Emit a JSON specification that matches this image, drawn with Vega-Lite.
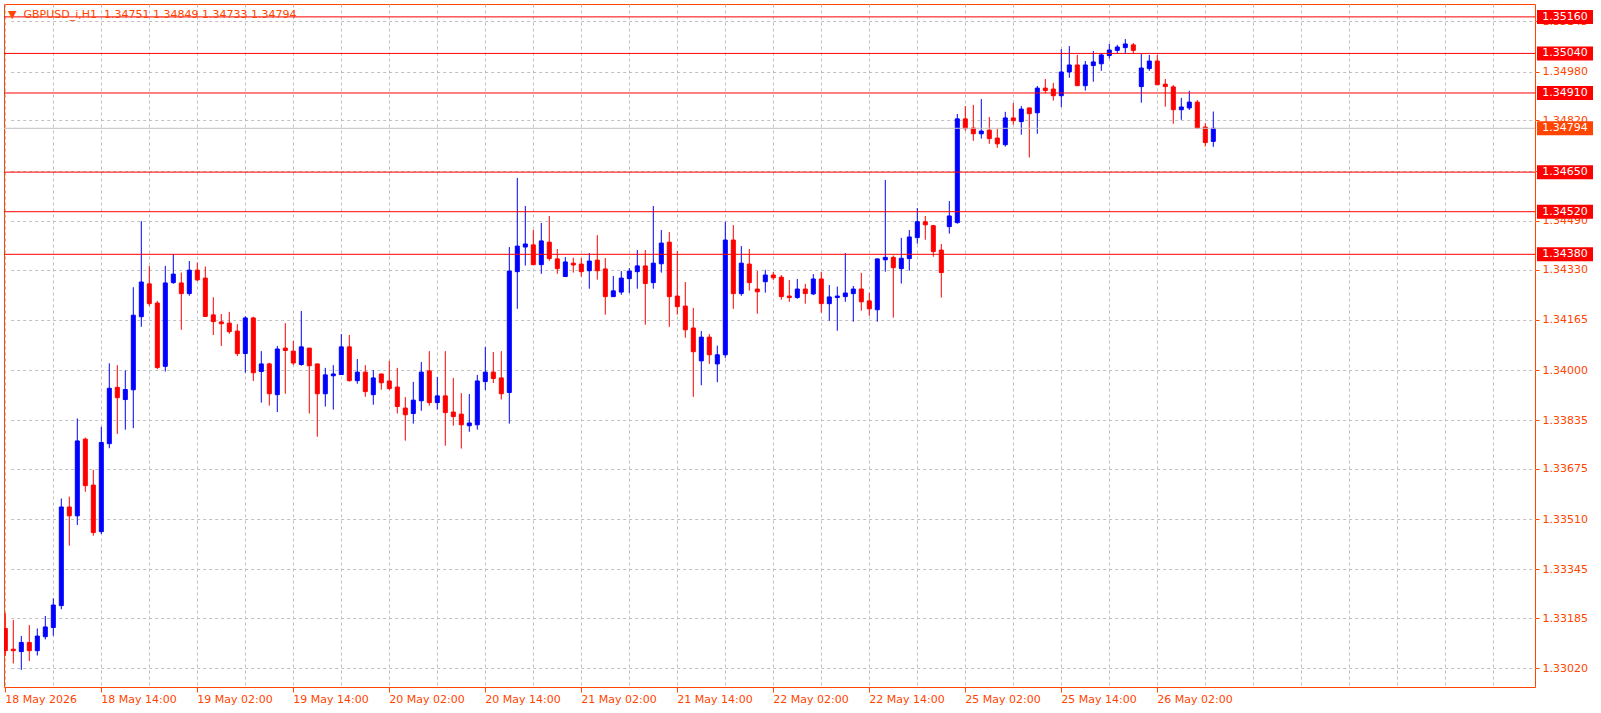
{
  "$schema": "https://vega.github.io/schema/vega-lite/v6.json",
  "usermeta": {"embedOptions": {"actions": false}},
  "autosize": "none",
  "width": 1531,
  "height": 683,
  "padding": {"left": 4, "top": 4, "right": 66, "bottom": 26},
  "background": "white",
  "view": {"stroke": "#ff4500", "strokeWidth": 1, "fill": "white"},
  "title": {"text": "▼\u00a0 GBPUSD_i,H1\u00a0 1.34751 1.34849 1.34733 1.34794", "anchor": "start", "frame": "group", "orient": "top", "offset": 0, "dy": 25, "dx": 4, "color": "#ff4500", "font": "DejaVu Sans", "fontSize": 11, "fontWeight": "normal", "baseline": "alphabetic"},
  "config": {"font": "DejaVu Sans"},
  "datasets": {
    "candles": [
      {"t":"2026-05-18 02:00","o":1.33151,"h":1.33201,"l":1.33061,"c":1.33078},
      {"t":"2026-05-18 03:00","o":1.33083,"h":1.33179,"l":1.33036,"c":1.33078},
      {"t":"2026-05-18 04:00","o":1.33075,"h":1.33126,"l":1.33015,"c":1.33105},
      {"t":"2026-05-18 05:00","o":1.33105,"h":1.33162,"l":1.33044,"c":1.33078},
      {"t":"2026-05-18 06:00","o":1.33078,"h":1.33151,"l":1.33062,"c":1.33126},
      {"t":"2026-05-18 07:00","o":1.33124,"h":1.33192,"l":1.33115,"c":1.33156},
      {"t":"2026-05-18 08:00","o":1.33154,"h":1.3325,"l":1.33127,"c":1.33228},
      {"t":"2026-05-18 09:00","o":1.33226,"h":1.33578,"l":1.33214,"c":1.3355},
      {"t":"2026-05-18 10:00","o":1.3355,"h":1.33584,"l":1.33423,"c":1.33521},
      {"t":"2026-05-18 11:00","o":1.33521,"h":1.33841,"l":1.33491,"c":1.33767},
      {"t":"2026-05-18 12:00","o":1.33773,"h":1.33778,"l":1.336,"c":1.3362},
      {"t":"2026-05-18 13:00","o":1.33622,"h":1.33672,"l":1.33456,"c":1.33466},
      {"t":"2026-05-18 14:00","o":1.33469,"h":1.33813,"l":1.33461,"c":1.33762},
      {"t":"2026-05-18 15:00","o":1.33758,"h":1.34022,"l":1.33743,"c":1.3394},
      {"t":"2026-05-18 16:00","o":1.33943,"h":1.34016,"l":1.3379,"c":1.33909},
      {"t":"2026-05-18 17:00","o":1.33903,"h":1.33999,"l":1.33804,"c":1.33936},
      {"t":"2026-05-18 18:00","o":1.33935,"h":1.34272,"l":1.33809,"c":1.3418},
      {"t":"2026-05-18 19:00","o":1.34175,"h":1.34489,"l":1.34142,"c":1.34289},
      {"t":"2026-05-18 20:00","o":1.34283,"h":1.34342,"l":1.3421,"c":1.34218},
      {"t":"2026-05-18 21:00","o":1.3422,"h":1.34227,"l":1.34003,"c":1.34008},
      {"t":"2026-05-18 22:00","o":1.34012,"h":1.34342,"l":1.33995,"c":1.34286},
      {"t":"2026-05-18 23:00","o":1.34287,"h":1.34381,"l":1.34283,"c":1.34315},
      {"t":"2026-05-19 00:00","o":1.34286,"h":1.3432,"l":1.34132,"c":1.34251},
      {"t":"2026-05-19 01:00","o":1.34251,"h":1.34358,"l":1.34244,"c":1.34328},
      {"t":"2026-05-19 02:00","o":1.34328,"h":1.34353,"l":1.34292,"c":1.34296},
      {"t":"2026-05-19 03:00","o":1.34302,"h":1.3434,"l":1.34174,"c":1.34176},
      {"t":"2026-05-19 04:00","o":1.34181,"h":1.34239,"l":1.34115,"c":1.34159},
      {"t":"2026-05-19 05:00","o":1.34158,"h":1.34184,"l":1.34079,"c":1.34152},
      {"t":"2026-05-19 06:00","o":1.34154,"h":1.34191,"l":1.34119,"c":1.34126},
      {"t":"2026-05-19 07:00","o":1.34128,"h":1.34151,"l":1.34046,"c":1.34054},
      {"t":"2026-05-19 08:00","o":1.34054,"h":1.34177,"l":1.33991,"c":1.34171},
      {"t":"2026-05-19 09:00","o":1.34171,"h":1.34175,"l":1.33964,"c":1.33991},
      {"t":"2026-05-19 10:00","o":1.33995,"h":1.34062,"l":1.33893,"c":1.3402},
      {"t":"2026-05-19 11:00","o":1.3402,"h":1.34024,"l":1.33883,"c":1.33922},
      {"t":"2026-05-19 12:00","o":1.33919,"h":1.34079,"l":1.33862,"c":1.34069},
      {"t":"2026-05-19 13:00","o":1.34072,"h":1.34154,"l":1.33922,"c":1.34064},
      {"t":"2026-05-19 14:00","o":1.34062,"h":1.34096,"l":1.34016,"c":1.34023},
      {"t":"2026-05-19 15:00","o":1.34018,"h":1.34194,"l":1.34014,"c":1.34076},
      {"t":"2026-05-19 16:00","o":1.34072,"h":1.34072,"l":1.33857,"c":1.34014},
      {"t":"2026-05-19 17:00","o":1.3402,"h":1.3402,"l":1.33781,"c":1.33922},
      {"t":"2026-05-19 18:00","o":1.33922,"h":1.34007,"l":1.3388,"c":1.33984},
      {"t":"2026-05-19 19:00","o":1.33981,"h":1.34016,"l":1.3387,"c":1.33987},
      {"t":"2026-05-19 20:00","o":1.33985,"h":1.34118,"l":1.33984,"c":1.34076},
      {"t":"2026-05-19 21:00","o":1.34076,"h":1.34115,"l":1.33962,"c":1.33965},
      {"t":"2026-05-19 22:00","o":1.33965,"h":1.34036,"l":1.33955,"c":1.33993},
      {"t":"2026-05-19 23:00","o":1.33993,"h":1.34016,"l":1.33912,"c":1.33929},
      {"t":"2026-05-20 00:00","o":1.33919,"h":1.34,"l":1.33886,"c":1.33974},
      {"t":"2026-05-20 01:00","o":1.33987,"h":1.33987,"l":1.33935,"c":1.33958},
      {"t":"2026-05-20 02:00","o":1.33964,"h":1.3403,"l":1.33934,"c":1.33939},
      {"t":"2026-05-20 03:00","o":1.33944,"h":1.34007,"l":1.33857,"c":1.3388},
      {"t":"2026-05-20 04:00","o":1.33875,"h":1.33911,"l":1.33768,"c":1.33853},
      {"t":"2026-05-20 05:00","o":1.33857,"h":1.33961,"l":1.33824,"c":1.33901},
      {"t":"2026-05-20 06:00","o":1.33899,"h":1.34026,"l":1.33866,"c":1.33993},
      {"t":"2026-05-20 07:00","o":1.33997,"h":1.34062,"l":1.33883,"c":1.33893},
      {"t":"2026-05-20 08:00","o":1.33893,"h":1.33977,"l":1.3387,"c":1.33915},
      {"t":"2026-05-20 09:00","o":1.33915,"h":1.34062,"l":1.33751,"c":1.3386},
      {"t":"2026-05-20 10:00","o":1.33862,"h":1.33974,"l":1.33817,"c":1.33847},
      {"t":"2026-05-20 11:00","o":1.33855,"h":1.33924,"l":1.33742,"c":1.3382},
      {"t":"2026-05-20 12:00","o":1.33817,"h":1.33921,"l":1.33797,"c":1.33826},
      {"t":"2026-05-20 13:00","o":1.3382,"h":1.33984,"l":1.33804,"c":1.33964},
      {"t":"2026-05-20 14:00","o":1.33962,"h":1.34076,"l":1.33934,"c":1.33993},
      {"t":"2026-05-20 15:00","o":1.33993,"h":1.34059,"l":1.33957,"c":1.33972},
      {"t":"2026-05-20 16:00","o":1.33974,"h":1.34062,"l":1.33903,"c":1.33922},
      {"t":"2026-05-20 17:00","o":1.33926,"h":1.34404,"l":1.33824,"c":1.34325},
      {"t":"2026-05-20 18:00","o":1.34323,"h":1.34631,"l":1.34201,"c":1.34407},
      {"t":"2026-05-20 19:00","o":1.34404,"h":1.34539,"l":1.34343,"c":1.34414},
      {"t":"2026-05-20 20:00","o":1.34411,"h":1.3446,"l":1.34344,"c":1.34346},
      {"t":"2026-05-20 21:00","o":1.34346,"h":1.34483,"l":1.34316,"c":1.34424},
      {"t":"2026-05-20 22:00","o":1.3442,"h":1.34506,"l":1.34359,"c":1.34366},
      {"t":"2026-05-20 23:00","o":1.34365,"h":1.34397,"l":1.34316,"c":1.34333},
      {"t":"2026-05-21 00:00","o":1.34307,"h":1.34371,"l":1.34307,"c":1.34355},
      {"t":"2026-05-21 01:00","o":1.34351,"h":1.34369,"l":1.3432,"c":1.34345},
      {"t":"2026-05-21 02:00","o":1.34348,"h":1.34368,"l":1.34307,"c":1.34323},
      {"t":"2026-05-21 03:00","o":1.34326,"h":1.34384,"l":1.34267,"c":1.34358},
      {"t":"2026-05-21 04:00","o":1.34361,"h":1.34443,"l":1.34297,"c":1.34326},
      {"t":"2026-05-21 05:00","o":1.34332,"h":1.34368,"l":1.34182,"c":1.34241},
      {"t":"2026-05-21 06:00","o":1.34241,"h":1.34309,"l":1.34241,"c":1.3426},
      {"t":"2026-05-21 07:00","o":1.34256,"h":1.34325,"l":1.34247,"c":1.34302},
      {"t":"2026-05-21 08:00","o":1.343,"h":1.34335,"l":1.34253,"c":1.34325},
      {"t":"2026-05-21 09:00","o":1.34323,"h":1.34394,"l":1.34267,"c":1.34342},
      {"t":"2026-05-21 10:00","o":1.34342,"h":1.34394,"l":1.34149,"c":1.34284},
      {"t":"2026-05-21 11:00","o":1.34287,"h":1.34539,"l":1.34267,"c":1.34351},
      {"t":"2026-05-21 12:00","o":1.34349,"h":1.3446,"l":1.3432,"c":1.34417},
      {"t":"2026-05-21 13:00","o":1.3442,"h":1.34453,"l":1.34142,"c":1.34241},
      {"t":"2026-05-21 14:00","o":1.34243,"h":1.34391,"l":1.34182,"c":1.34208},
      {"t":"2026-05-21 15:00","o":1.3421,"h":1.34289,"l":1.34106,"c":1.34132},
      {"t":"2026-05-21 16:00","o":1.34138,"h":1.34204,"l":1.33912,"c":1.3406},
      {"t":"2026-05-21 17:00","o":1.3403,"h":1.34128,"l":1.3395,"c":1.34108},
      {"t":"2026-05-21 18:00","o":1.34108,"h":1.34118,"l":1.3402,"c":1.3405},
      {"t":"2026-05-21 19:00","o":1.3402,"h":1.3408,"l":1.3396,"c":1.3405},
      {"t":"2026-05-21 20:00","o":1.3405,"h":1.34487,"l":1.3404,"c":1.34427},
      {"t":"2026-05-21 21:00","o":1.34427,"h":1.34476,"l":1.34201,"c":1.34251},
      {"t":"2026-05-21 22:00","o":1.34251,"h":1.34407,"l":1.34244,"c":1.34351},
      {"t":"2026-05-21 23:00","o":1.34348,"h":1.34397,"l":1.34261,"c":1.34287},
      {"t":"2026-05-22 00:00","o":1.34266,"h":1.34325,"l":1.34185,"c":1.34257},
      {"t":"2026-05-22 01:00","o":1.3429,"h":1.34329,"l":1.34254,"c":1.34312},
      {"t":"2026-05-22 02:00","o":1.34312,"h":1.34322,"l":1.34296,"c":1.34303},
      {"t":"2026-05-22 03:00","o":1.34305,"h":1.34312,"l":1.34231,"c":1.34241},
      {"t":"2026-05-22 04:00","o":1.34243,"h":1.34296,"l":1.34224,"c":1.34238},
      {"t":"2026-05-22 05:00","o":1.34238,"h":1.34299,"l":1.34234,"c":1.34266},
      {"t":"2026-05-22 06:00","o":1.34266,"h":1.34283,"l":1.34218,"c":1.34251},
      {"t":"2026-05-22 07:00","o":1.3425,"h":1.34315,"l":1.34246,"c":1.34299},
      {"t":"2026-05-22 08:00","o":1.34299,"h":1.34322,"l":1.34188,"c":1.34218},
      {"t":"2026-05-22 09:00","o":1.34218,"h":1.34279,"l":1.34162,"c":1.3424},
      {"t":"2026-05-22 10:00","o":1.34238,"h":1.34274,"l":1.34129,"c":1.34243},
      {"t":"2026-05-22 11:00","o":1.34241,"h":1.34384,"l":1.34224,"c":1.34253},
      {"t":"2026-05-22 12:00","o":1.34251,"h":1.34276,"l":1.34159,"c":1.34266},
      {"t":"2026-05-22 13:00","o":1.34266,"h":1.34319,"l":1.34195,"c":1.34224},
      {"t":"2026-05-22 14:00","o":1.34227,"h":1.34254,"l":1.34178,"c":1.34201},
      {"t":"2026-05-22 15:00","o":1.34198,"h":1.34365,"l":1.34159,"c":1.34365},
      {"t":"2026-05-22 16:00","o":1.34362,"h":1.34624,"l":1.34323,"c":1.3437},
      {"t":"2026-05-22 17:00","o":1.3437,"h":1.34376,"l":1.34172,"c":1.34336},
      {"t":"2026-05-22 18:00","o":1.34333,"h":1.34434,"l":1.34284,"c":1.34367},
      {"t":"2026-05-22 19:00","o":1.34366,"h":1.3446,"l":1.34326,"c":1.34437},
      {"t":"2026-05-22 20:00","o":1.34435,"h":1.34532,"l":1.34415,"c":1.34487},
      {"t":"2026-05-22 21:00","o":1.34487,"h":1.34506,"l":1.34428,"c":1.34477},
      {"t":"2026-05-22 22:00","o":1.34474,"h":1.34477,"l":1.34372,"c":1.34389},
      {"t":"2026-05-22 23:00","o":1.34394,"h":1.34414,"l":1.34238,"c":1.3432},
      {"t":"2026-05-25 00:00","o":1.34471,"h":1.34555,"l":1.34448,"c":1.34506},
      {"t":"2026-05-25 01:00","o":1.34484,"h":1.34841,"l":1.34481,"c":1.34825},
      {"t":"2026-05-25 02:00","o":1.34825,"h":1.34867,"l":1.34786,"c":1.34793},
      {"t":"2026-05-25 03:00","o":1.34795,"h":1.34871,"l":1.34753,"c":1.34776},
      {"t":"2026-05-25 04:00","o":1.34776,"h":1.3489,"l":1.3476,"c":1.34785},
      {"t":"2026-05-25 05:00","o":1.34788,"h":1.34831,"l":1.34743,"c":1.3476},
      {"t":"2026-05-25 06:00","o":1.34762,"h":1.34792,"l":1.3473,"c":1.34743},
      {"t":"2026-05-25 07:00","o":1.3474,"h":1.34848,"l":1.34734,"c":1.34828},
      {"t":"2026-05-25 08:00","o":1.34828,"h":1.34877,"l":1.34806,"c":1.34819},
      {"t":"2026-05-25 09:00","o":1.34816,"h":1.34867,"l":1.34773,"c":1.34857},
      {"t":"2026-05-25 10:00","o":1.34861,"h":1.34861,"l":1.34698,"c":1.34842},
      {"t":"2026-05-25 11:00","o":1.34845,"h":1.34933,"l":1.34776,"c":1.34926},
      {"t":"2026-05-25 12:00","o":1.34926,"h":1.34956,"l":1.34909,"c":1.34918},
      {"t":"2026-05-25 13:00","o":1.34923,"h":1.34943,"l":1.34885,"c":1.34901},
      {"t":"2026-05-25 14:00","o":1.34901,"h":1.35054,"l":1.34864,"c":1.34979},
      {"t":"2026-05-25 15:00","o":1.34979,"h":1.35064,"l":1.3496,"c":1.35002},
      {"t":"2026-05-25 16:00","o":1.35002,"h":1.35035,"l":1.34934,"c":1.34934},
      {"t":"2026-05-25 17:00","o":1.34934,"h":1.35015,"l":1.34918,"c":1.35002},
      {"t":"2026-05-25 18:00","o":1.35,"h":1.35048,"l":1.34947,"c":1.35012},
      {"t":"2026-05-25 19:00","o":1.35006,"h":1.35041,"l":1.34983,"c":1.35035},
      {"t":"2026-05-25 20:00","o":1.35033,"h":1.35071,"l":1.35023,"c":1.35051},
      {"t":"2026-05-25 21:00","o":1.3505,"h":1.35068,"l":1.35039,"c":1.35061},
      {"t":"2026-05-25 22:00","o":1.35059,"h":1.35087,"l":1.35041,"c":1.35071},
      {"t":"2026-05-25 23:00","o":1.35068,"h":1.35074,"l":1.35038,"c":1.3505},
      {"t":"2026-05-26 00:00","o":1.34931,"h":1.35038,"l":1.34878,"c":1.34992},
      {"t":"2026-05-26 01:00","o":1.3499,"h":1.35035,"l":1.34983,"c":1.35015},
      {"t":"2026-05-26 02:00","o":1.35015,"h":1.35035,"l":1.34937,"c":1.34937},
      {"t":"2026-05-26 03:00","o":1.34939,"h":1.34956,"l":1.34865,"c":1.34931},
      {"t":"2026-05-26 04:00","o":1.3493,"h":1.34936,"l":1.34809,"c":1.34855},
      {"t":"2026-05-26 05:00","o":1.34855,"h":1.34894,"l":1.34822,"c":1.34864},
      {"t":"2026-05-26 06:00","o":1.34861,"h":1.34917,"l":1.34854,"c":1.3488},
      {"t":"2026-05-26 07:00","o":1.3488,"h":1.34887,"l":1.34792,"c":1.34795},
      {"t":"2026-05-26 08:00","o":1.34798,"h":1.34811,"l":1.34734,"c":1.34747},
      {"t":"2026-05-26 09:00","o":1.34751,"h":1.34849,"l":1.34733,"c":1.34794}
    ],
    "levels": [{"p":1.3516},{"p":1.3504},{"p":1.3491},{"p":1.3465},{"p":1.3452},{"p":1.3438}],
    "last": [{"p":1.34794}]
  },
  "layer": [
    {
      "data": {"name": "candles"},
      "mark": {"type": "rule", "strokeWidth": 1, "clip": true},
      "encoding": {
        "x": {"field": "t", "type": "ordinal", "sort": "ascending",
          "scale": {"domain": {"unionWith": ["2026-05-26 10:00","2026-05-26 11:00","2026-05-26 12:00","2026-05-26 13:00","2026-05-26 14:00","2026-05-26 15:00","2026-05-26 16:00","2026-05-26 17:00","2026-05-26 18:00","2026-05-26 19:00","2026-05-26 20:00","2026-05-26 21:00","2026-05-26 22:00","2026-05-26 23:00","2026-05-27 00:00","2026-05-27 01:00","2026-05-27 02:00","2026-05-27 03:00","2026-05-27 04:00","2026-05-27 05:00","2026-05-27 06:00","2026-05-27 07:00","2026-05-27 08:00","2026-05-27 09:00","2026-05-27 10:00","2026-05-27 11:00","2026-05-27 12:00","2026-05-27 13:00","2026-05-27 14:00","2026-05-27 15:00","2026-05-27 16:00","2026-05-27 17:00","2026-05-27 18:00","2026-05-27 19:00","2026-05-27 20:00","2026-05-27 21:00","2026-05-27 22:00","2026-05-27 23:00","2026-05-28 00:00"]}, "range": [-2.7, 1525.3], "paddingInner": 0, "paddingOuter": 0},
          "axis": {
            "title": null, "orient": "bottom", "domain": false, "bandPosition": 0.5,
            "values": ["2026-05-18 02:00","2026-05-18 08:00","2026-05-18 14:00","2026-05-18 20:00","2026-05-19 02:00","2026-05-19 08:00","2026-05-19 14:00","2026-05-19 20:00","2026-05-20 02:00","2026-05-20 08:00","2026-05-20 14:00","2026-05-20 20:00","2026-05-21 02:00","2026-05-21 08:00","2026-05-21 14:00","2026-05-21 20:00","2026-05-22 02:00","2026-05-22 08:00","2026-05-22 14:00","2026-05-22 20:00","2026-05-25 02:00","2026-05-25 08:00","2026-05-25 14:00","2026-05-25 20:00","2026-05-26 02:00","2026-05-26 08:00","2026-05-26 14:00","2026-05-26 20:00","2026-05-27 02:00","2026-05-27 08:00","2026-05-27 14:00","2026-05-27 20:00"],
            "grid": true, "gridColor": "#c0c0c0", "gridDash": [3, 3], "gridWidth": 1,
            "tickColor": "#ff4500", "tickSize": 5,
            "tickOpacity": {"condition": {"test": "(slice(datum.value,11)=='02:00' || slice(datum.value,11)=='14:00') && datum.value <= '2026-05-26 02:00'", "value": 1}, "value": 0},
            "labelExpr": "datum.value == '2026-05-18 02:00' ? '18 May 2026' : (((slice(datum.value,11)=='02:00' || slice(datum.value,11)=='14:00') && datum.value <= '2026-05-26 02:00') ? slice(datum.value,8,10) + ' May ' + slice(datum.value,11) : '')",
            "labelAlign": "left", "labelBaseline": "top", "labelPadding": 1, "labelAngle": 0,
            "labelColor": "#ff4500", "labelFont": "DejaVu Sans", "labelFontSize": 11,
            "labelOverlap": false, "labelBound": false, "labelFlush": false
          }
        },
        "y": {"field": "l", "type": "quantitative",
          "scale": {"domain": [1.329587, 1.352023], "zero": false, "nice": false},
          "axis": {
            "title": null, "orient": "right", "domain": false,
            "values": [1.3302, 1.33185, 1.33345, 1.3351, 1.33675, 1.33835, 1.34, 1.34165, 1.3433, 1.3449, 1.34655, 1.3482, 1.3498, 1.35145],
            "format": ".5f", "grid": true, "gridColor": "#c0c0c0", "gridDash": [3, 3], "gridWidth": 1,
            "tickColor": "#ff4500", "tickSize": 4, "labelPadding": 3,
            "labelColor": "#ff4500", "labelFont": "DejaVu Sans", "labelFontSize": 11, "labelBaseline": "middle",
            "labelOverlap": false, "labelBound": false, "labelFlush": false
          }
        },
        "y2": {"field": "h"},
        "color": {"condition": {"test": "datum.c >= datum.o", "value": "#0000ff"}, "value": "#ff0000"}
      }
    },
    {
      "data": {"name": "candles"},
      "mark": {"type": "bar", "size": 4, "strokeWidth": 1, "clip": true},
      "encoding": {
        "x": {"field": "t", "type": "ordinal", "sort": "ascending"},
        "y": {"field": "o", "type": "quantitative"},
        "y2": {"field": "c"},
        "fill": {"condition": {"test": "datum.c >= datum.o", "value": "#0000ff"}, "value": "#ff0000"},
        "stroke": {"condition": {"test": "datum.c >= datum.o", "value": "#0000ff"}, "value": "#ff0000"}
      }
    },
    {
      "data": {"name": "levels"},
      "mark": {"type": "rule", "color": "#ff0000", "strokeWidth": 1},
      "encoding": {"y": {"field": "p", "type": "quantitative"}}
    },
    {
      "data": {"name": "last"},
      "mark": {"type": "rule", "color": "#c0c0c0", "strokeWidth": 1},
      "encoding": {"y": {"field": "p", "type": "quantitative"}}
    },
    {
      "data": {"name": "levels"},
      "mark": {"type": "rect", "color": "#ff0000", "xOffset": 2, "x2Offset": 58, "yOffset": -7, "y2Offset": 7},
      "encoding": {
        "x": {"value": "width"}, "x2": {"value": "width"},
        "y": {"field": "p", "type": "quantitative"}, "y2": {"field": "p"}
      }
    },
    {
      "data": {"name": "last"},
      "mark": {"type": "rect", "color": "#ff4500", "xOffset": 2, "x2Offset": 58, "yOffset": -7, "y2Offset": 7},
      "encoding": {
        "x": {"value": "width"}, "x2": {"value": "width"},
        "y": {"field": "p", "type": "quantitative"}, "y2": {"field": "p"}
      }
    },
    {
      "data": {"name": "levels"},
      "mark": {"type": "text", "color": "white", "align": "center", "baseline": "middle", "dx": 30, "font": "DejaVu Sans", "fontSize": 11},
      "encoding": {
        "x": {"value": "width"},
        "y": {"field": "p", "type": "quantitative"},
        "text": {"field": "p", "type": "quantitative", "format": ".5f"}
      }
    },
    {
      "data": {"name": "last"},
      "mark": {"type": "text", "color": "white", "align": "center", "baseline": "middle", "dx": 30, "font": "DejaVu Sans", "fontSize": 11},
      "encoding": {
        "x": {"value": "width"},
        "y": {"field": "p", "type": "quantitative"},
        "text": {"field": "p", "type": "quantitative", "format": ".5f"}
      }
    }
  ]
}
